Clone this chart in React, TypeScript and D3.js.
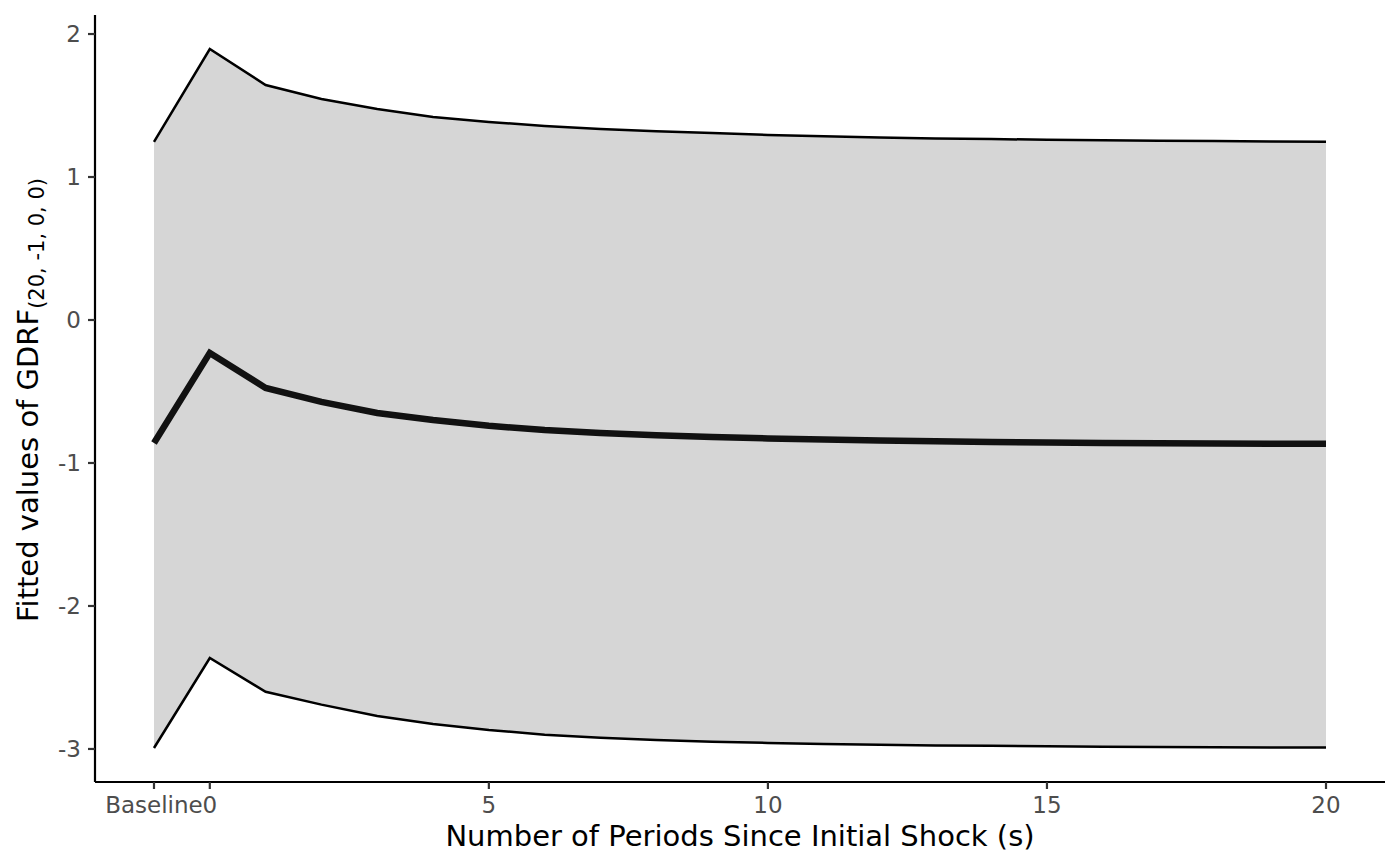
import React, { useEffect, useRef } from "react";
import * as d3 from "d3";

// periods: -1 stands for "Baseline"
const periods = [-1, 0, 1, 2, 3, 4, 5, 6, 7, 8, 9, 10, 11, 12, 13, 14, 15, 16, 17, 18, 19, 20];
const fitted = [-0.86, -0.23, -0.475, -0.573, -0.65, -0.70, -0.74, -0.77, -0.79, -0.806, -0.818, -0.828, -0.836, -0.843, -0.848, -0.853, -0.857, -0.86, -0.862, -0.864, -0.865, -0.866];
const upper = [1.245, 1.895, 1.643, 1.545, 1.476, 1.42, 1.385, 1.357, 1.336, 1.32, 1.307, 1.294, 1.285, 1.277, 1.27, 1.265, 1.261, 1.257, 1.254, 1.251, 1.249, 1.247];
const lower = [-2.993, -2.364, -2.6, -2.69, -2.77, -2.825, -2.867, -2.9, -2.922, -2.937, -2.949, -2.958, -2.965, -2.97, -2.975, -2.978, -2.981, -2.984, -2.986, -2.988, -2.989, -2.99];
const xTicks = [-1, 0, 5, 10, 15, 20];
const xTickLabels = ["Baseline", "0", "5", "10", "15", "20"];
const yTicks = [-3, -2, -1, 0, 1, 2];

const W = 1400, H = 866;
const M = { left: 95, right: 1385, top: 15, bottom: 782 };

export default function App() {
  const ref = useRef<SVGSVGElement>(null);
  useEffect(() => {
    const svg = d3.select(ref.current);
    svg.selectAll("*").remove();
    const x = d3.scaleLinear().domain([-2.057, 21.057]).range([M.left, M.right]);
    const y = d3.scaleLinear().domain([-3.231, 2.133]).range([M.bottom, M.top]);
    const rows = periods.map((p, i) => ({ p, m: fitted[i], lo: lower[i], hi: upper[i] }));

    const area = d3.area<any>().x(d => x(d.p)).y0(d => y(d.lo)).y1(d => y(d.hi));
    svg.append("path").attr("d", area(rows)).attr("fill", "#d6d6d6");

    const mk = (f: (d: any) => number) => d3.line<any>().x(d => x(d.p)).y(d => y(f(d)));
    svg.append("path").attr("d", mk(d => d.hi)(rows)).attr("fill", "none").attr("stroke", "#000").attr("stroke-width", 2.5);
    svg.append("path").attr("d", mk(d => d.lo)(rows)).attr("fill", "none").attr("stroke", "#000").attr("stroke-width", 2.5);
    svg.append("path").attr("d", mk(d => d.m)(rows)).attr("fill", "none").attr("stroke", "#111").attr("stroke-width", 6.5);

    const font = "DejaVu Sans, sans-serif";
    // y axis
    const gy = svg.append("g");
    gy.append("line").attr("x1", M.left).attr("x2", M.left).attr("y1", M.top).attr("y2", M.bottom).attr("stroke", "#000").attr("stroke-width", 2.2);
    yTicks.forEach(t => {
      gy.append("line").attr("x1", M.left - 7).attr("x2", M.left).attr("y1", y(t)).attr("y2", y(t)).attr("stroke", "#333").attr("stroke-width", 2.2);
      gy.append("text").attr("x", M.left - 14).attr("y", y(t)).attr("dy", "0.36em").attr("text-anchor", "end")
        .attr("font-family", font).attr("font-size", 23).attr("fill", "#4d4d4d").text(String(t));
    });
    // x axis
    const gx = svg.append("g");
    gx.append("line").attr("x1", M.left).attr("x2", M.right).attr("y1", M.bottom).attr("y2", M.bottom).attr("stroke", "#000").attr("stroke-width", 2.2);
    xTicks.forEach((t, i) => {
      gx.append("line").attr("x1", x(t)).attr("x2", x(t)).attr("y1", M.bottom).attr("y2", M.bottom + 7).attr("stroke", "#333").attr("stroke-width", 2.2);
      gx.append("text").attr("x", x(t)).attr("y", 813).attr("text-anchor", "middle")
        .attr("font-family", font).attr("font-size", 23).attr("fill", "#4d4d4d").text(xTickLabels[i]);
    });
    svg.append("text").attr("x", (M.left + M.right) / 2).attr("y", 846).attr("text-anchor", "middle")
      .attr("font-family", font).attr("font-size", 29).attr("fill", "#000").text("Number of Periods Since Initial Shock (s)");

    const yl = svg.append("text").attr("transform", `translate(38, 400) rotate(-90)`)
      .attr("text-anchor", "middle").attr("font-family", font).attr("font-size", 29).attr("fill", "#000");
    yl.append("tspan").text("Fitted values of GDRF");
    yl.append("tspan").attr("font-size", 21).attr("dy", 6).text("(20, -1, 0, 0)");
  }, []);
  return <svg ref={ref} width={W} height={H} style={{ display: "block", position: "absolute", left: 0, top: 0 }} />;
}
